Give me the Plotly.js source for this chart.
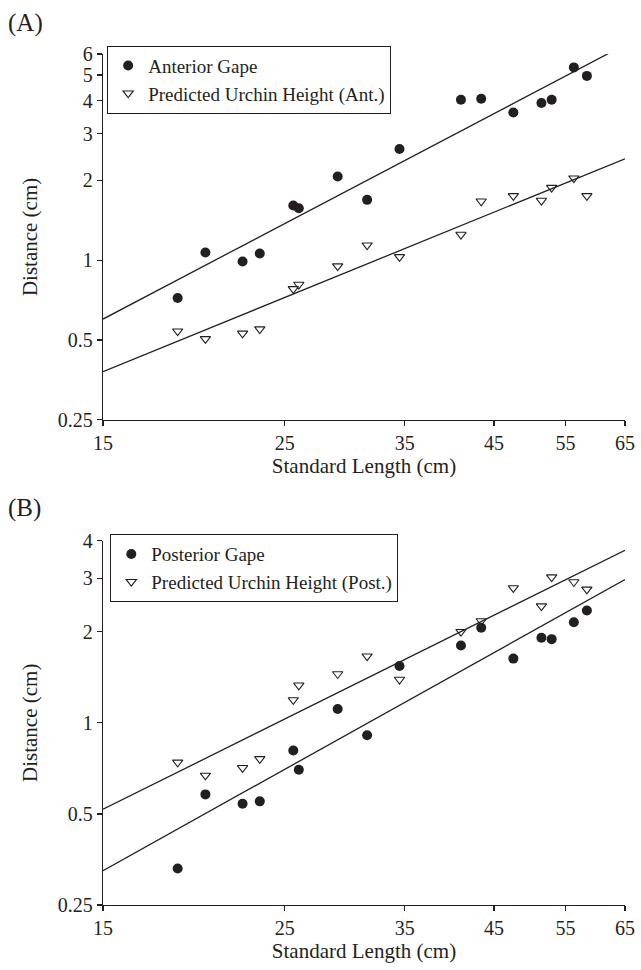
<!DOCTYPE html>
<html>
<head>
<meta charset="utf-8">
<script src="https://cdn.plot.ly/plotly-3.0.1.min.js"></script>
<style>html,body{margin:0;padding:0;background:#fff;}#chart{width:641px;height:970px;}</style>
</head>
<body>
<div id="chart"></div>
<script>
// Standard length of each fish (cm)
var lengthCm = [18.5, 20.0, 22.2, 23.3, 25.6, 26.0, 29.0, 31.5, 34.5, 41.0, 43.4, 47.5, 51.4, 52.9, 56.3, 58.4];
// Panel A
var anteriorGape = [0.72, 1.07, 0.99, 1.06, 1.61, 1.57, 2.07, 1.69, 2.63, 4.03, 4.07, 3.61, 3.92, 4.03, 5.34, 4.96];
var predictedAnt = [0.54, 0.505, 0.53, 0.55, 0.78, 0.81, 0.95, 1.14, 1.03, 1.25, 1.67, 1.75, 1.68, 1.88, 2.04, 1.75];
// Panel B
var posteriorGape = [0.33, 0.58, 0.54, 0.55, 0.81, 0.70, 1.11, 0.91, 1.54, 1.80, 2.06, 1.63, 1.91, 1.89, 2.15, 2.35];
var predictedPost = [0.74, 0.67, 0.71, 0.76, 1.19, 1.33, 1.45, 1.66, 1.39, 2.00, 2.17, 2.79, 2.43, 3.03, 2.92, 2.76];
// Fitted power-law lines (end points)
var fitX = [15, 65];
var fitAntGape = [0.60, 6.5];
var fitAntPred = [0.38, 2.415];
var fitPostPred = [0.518, 3.717];
var fitPostGape = [0.3245, 2.975];
// Axis ticks
var xTicks = [15, 25, 35, 45, 55, 65];
var yTicksA = [0.25, 0.5, 1, 2, 3, 4, 5, 6];
var yTicksB = [0.25, 0.5, 1, 2, 3, 4];

var ink = '#231f20';
var FONT = '"Liberation Serif", "Times New Roman", serif';

function circles(y, name, xa, ya, lg) {
  return {x: lengthCm, y: y, name: name, type: 'scatter', mode: 'markers', xaxis: xa, yaxis: ya, legend: lg,
    marker: {symbol: 'circle', size: 10, color: ink, line: {width: 0}}};
}
function tris(y, name, xa, ya, lg) {
  return {x: lengthCm, y: y, name: name, type: 'scatter', mode: 'markers', xaxis: xa, yaxis: ya, legend: lg,
    marker: {symbol: 'triangle-down-open', size: 9, color: ink, line: {width: 1.1, color: ink}}};
}
function fit(y, xa, ya) {
  return {x: fitX, y: y, type: 'scatter', mode: 'lines', xaxis: xa, yaxis: ya, showlegend: false,
    hoverinfo: 'skip', line: {color: ink, width: 1.3}};
}

var data = [
  circles(anteriorGape, 'Anterior Gape', 'x', 'y', 'legend'),
  tris(predictedAnt, 'Predicted Urchin Height (Ant.)', 'x', 'y', 'legend'),
  fit(fitAntGape, 'x', 'y'),
  fit(fitAntPred, 'x', 'y'),
  circles(posteriorGape, 'Posterior Gape', 'x2', 'y2', 'legend2'),
  tris(predictedPost, 'Predicted Urchin Height (Post.)', 'x2', 'y2', 'legend2'),
  fit(fitPostPred, 'x2', 'y2'),
  fit(fitPostGape, 'x2', 'y2')
];

function xAxis(anchor) {
  return {type: 'log', range: [Math.log10(15), Math.log10(65)], anchor: anchor,
    tickmode: 'array', tickvals: xTicks, ticktext: xTicks.map(String),
    showline: true, linecolor: ink, linewidth: 1.2, ticks: 'outside', ticklen: 5, tickwidth: 1.2, tickcolor: ink,
    showgrid: false, zeroline: false, tickfont: {family: FONT, size: 20, color: ink},
    title: {text: 'Standard Length (cm)', font: {family: FONT, size: 21, color: ink}, standoff: 4}};
}
function yAxis(anchor, ticks, top, domain) {
  return {type: 'log', range: [Math.log10(0.25), Math.log10(top)], anchor: anchor, domain: domain,
    tickmode: 'array', tickvals: ticks, ticktext: ticks.map(String),
    showline: true, linecolor: ink, linewidth: 1.2, ticks: 'outside', ticklen: 5, tickwidth: 1.2, tickcolor: ink,
    showgrid: false, zeroline: false, tickfont: {family: FONT, size: 20, color: ink},
    title: {text: 'Distance (cm)', font: {family: FONT, size: 21, color: ink}, standoff: 14}};
}

var legendFont = {family: FONT, size: 19, color: ink};
var layout = {
  width: 641, height: 970,
  margin: {l: 103, r: 16, t: 54, b: 65},
  paper_bgcolor: '#fff', plot_bgcolor: '#fff',
  font: {family: FONT, color: ink},
  showlegend: true,
  xaxis: xAxis('y'),
  yaxis: yAxis('x', yTicksA, 6, [0.5701, 1]),
  xaxis2: xAxis('y2'),
  yaxis2: yAxis('x2', yTicksB, 4, [0, 0.4282]),
  legend: {x: 0.008, y: 1.0098, xanchor: 'left', yanchor: 'top', bgcolor: '#fff',
    bordercolor: ink, borderwidth: 1, font: legendFont, tracegroupgap: 0},
  legend2: {x: 0.014, y: 0.4358, xanchor: 'left', yanchor: 'top', bgcolor: '#fff',
    bordercolor: ink, borderwidth: 1, font: legendFont, tracegroupgap: 0},
  annotations: [
    {text: '(A)', xref: 'paper', yref: 'paper', x: -0.185, y: 1.037, xanchor: 'left', yanchor: 'middle',
     showarrow: false, font: {family: FONT, size: 25, color: ink}},
    {text: '(B)', xref: 'paper', yref: 'paper', x: -0.185, y: 0.4667, xanchor: 'left', yanchor: 'middle',
     showarrow: false, font: {family: FONT, size: 25, color: ink}}
  ]
};

Plotly.newPlot('chart', data, layout, {displayModeBar: false, staticPlot: true});
</script>
</body>
</html>
